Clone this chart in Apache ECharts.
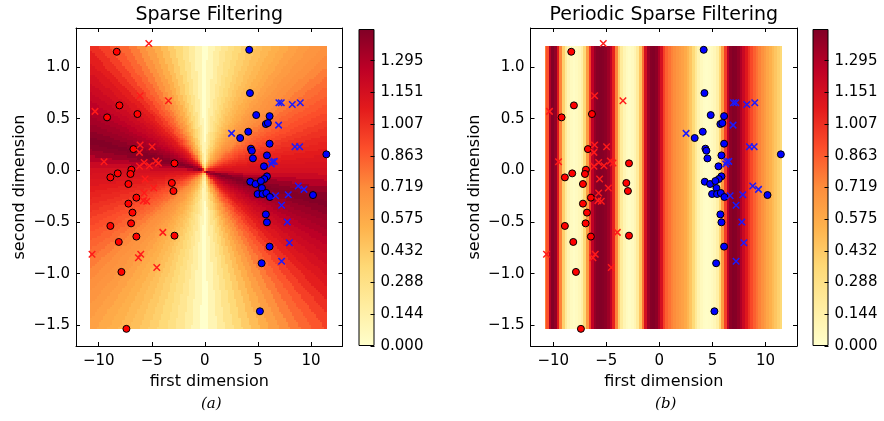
<!DOCTYPE html>
<html><head><meta charset="utf-8">
<script src="https://cdn.jsdelivr.net/npm/echarts@6/dist/echarts.min.js"></script>
<style>html,body{margin:0;padding:0;background:#fff}#c{width:884px;height:421px}</style>
</head><body><div id="c"></div>
<script>
// ---------------- data ----------------
const xTicks = [-10, -5, 0, 5, 10];
const yTicks = [-1.5, -1.0, -0.5, 0.0, 0.5, 1.0];
const cbarLabels = ['0.000','0.144','0.288','0.432','0.575','0.719','0.863','1.007','1.151','1.295'];
const cbarMax = 1.4387;
const xRange = [-12.14, 12.97];
const yRange = [-1.70, 1.378];
const fieldX = [-10.75, 11.5];
const fieldY = [-1.53, 1.20];

const redDots = [[-8.30,1.148],[-8.05,0.629],[-9.21,0.513],[-6.35,0.545],[-6.73,0.206],[-2.86,0.068],
  [-6.92,0.006],[-7.01,-0.035],[-8.21,-0.029],[-8.90,-0.068],[-7.20,-0.132],[-3.11,-0.122],[-2.96,-0.200],
  [-6.45,-0.264],[-7.20,-0.322],[-6.82,-0.409],[-6.95,-0.513],[-8.90,-0.538],[-6.45,-0.641],[-2.86,-0.632],
  [-8.11,-0.693],[-7.86,-0.983],[-7.39,-1.534]];
const redCrosses = [[-5.28,1.228],[-6.10,0.722],[-3.43,0.674],[-10.35,0.571],[-6.10,0.245],[-4.97,0.229],
  [-6.16,0.174],[-9.50,0.084],[-5.72,0.077],[-6.16,0.039],[-5.22,0.045],[-4.62,0.090],[-4.37,0.071],
  [-5.63,-0.084],[-4.81,-0.171],[-5.72,-0.219],[-5.79,-0.293],[-5.47,-0.299],[-3.96,-0.600],[-10.63,-0.812],
  [-6.04,-0.812],[-6.26,-0.845],[-4.53,-0.941]];
const blueDots = [[4.18,1.167],[4.25,0.748],[4.84,0.535],[6.10,0.525],[5.75,0.448],[5.94,0.458],[4.09,0.374],
  [3.33,0.313],[6.10,0.258],[4.34,0.210],[4.43,0.190],[4.53,0.116],[5.85,0.145],[5.57,0.039],[11.45,0.155],
  [5.85,-0.058],[5.60,-0.084],[4.28,-0.110],[4.78,-0.132],[5.28,-0.103],[5.38,-0.171],[4.97,-0.229],
  [5.44,-0.229],[5.79,-0.219],[6.13,-0.258],[10.19,-0.239],[5.75,-0.426],[5.85,-0.503],[6.10,-0.738],
  [5.35,-0.899],[5.19,-1.364]];
const blueCrosses = [[6.98,0.654],[7.20,0.654],[8.24,0.638],[8.99,0.654],[6.95,0.438],[2.52,0.358],[8.49,0.229],
  [8.93,0.229],[6.35,0.084],[6.54,0.087],[6.26,0.061],[8.80,-0.152],[9.34,-0.184],[6.67,-0.245],[7.86,-0.236],
  [7.23,-0.338],[7.77,-0.500],[7.96,-0.700],[7.23,-0.880]];

// panel (a): value read along rays from the origin, every 3 degrees of screen angle (0..177)
const angleStep = 3;
const sparseByAngle = [
  1.15,1.13,1.11,1.08,1.05,1.03,1.00,0.97,0.93,0.90,
  0.87,0.84,0.81,0.77,0.73,0.70,0.68,0.65,0.62,0.58,
  0.55,0.51,0.48,0.44,0.40,0.35,0.30,0.24,0.17,0.09,
  0.00,0.10,0.19,0.27,0.35,0.42,0.49,0.56,0.63,0.70,
  0.77,0.83,0.88,0.95,1.01,1.07,1.11,1.15,1.19,1.22,
  1.26,1.30,1.33,1.36,1.40,1.43,1.41,1.36,1.28,1.20];
// panel (b): value read along the first dimension, every 0.25 from -10.75 to 11.5
const periodicStep = 0.25;
const periodicByX = [
  0.75,0.9,1.3,1.43,1.38,1.1,0.75,0.4,0.2,0.1,
  0.05,0.03,0.05,0.08,0.15,0.35,0.65,0.95,1.25,1.38,
  1.42,1.43,1.42,1.40,1.35,1.25,1.05,0.75,0.4,0.2,
  0.1,0.05,0.03,0.05,0.1,0.2,0.45,0.8,1.15,1.35,
  1.42,1.43,1.4,1.3,1.15,0.95,0.85,0.8,0.75,0.72,
  0.68,0.65,0.62,0.58,0.52,0.45,0.35,0.22,0.12,0.06,
  0.03,0.02,0.03,0.05,0.08,0.15,0.35,0.65,0.95,1.25,
  1.4,1.43,1.42,1.38,1.3,1.2,1.1,1.0,0.92,0.85,
  0.8,0.75,0.7,0.65,0.6,0.55,0.5,0.45,0.4,0.35];

// ---------------- layout / style ----------------
const FONT = 'DejaVu Sans';
const YlOrRd = ['#ffffcc','#ffeda0','#fed976','#feb24c','#fd8d3c','#fc4e2a','#e31a1c','#bd0026','#800026'];
const plotTop = 28, plotW = 266.5, plotH = 318;
const cbTop = 29, cbW = 16, cbH = 317;
const panels = [
  {title:'Sparse Filtering', tag:'(a)', left:76, cbLeft:358.5},
  {title:'Periodic Sparse Filtering', tag:'(b)', left:530.5, cbLeft:812.5}
];

function minus(s){ return String(s).replace('-', '\u2212'); }

function angleCells(){
  const nx = 110, ny = 130;
  const dx = (fieldX[1]-fieldX[0])/nx, dy = (fieldY[1]-fieldY[0])/ny;
  const ratio = (plotH/(yRange[1]-yRange[0]))/(plotW/(xRange[1]-xRange[0]));
  const cells = [];
  for (let i=0;i<nx;i++) for (let j=0;j<ny;j++){
    const x0 = fieldX[0]+i*dx, y0 = fieldY[0]+j*dy;
    const xc = x0+dx/2, yc = y0+dy/2;
    let deg = Math.atan2(yc*ratio, xc)*180/Math.PI;
    deg = ((deg%180)+180)%180;
    const k = Math.round(deg/angleStep) % sparseByAngle.length;
    cells.push([x0, y0, x0+dx, y0+dy, sparseByAngle[k]]);
  }
  return cells;
}
function periodicCells(){
  const cells = [];
  periodicByX.forEach((v,i)=>{
    const xc = fieldX[0]+i*periodicStep;
    const x0 = Math.max(fieldX[0], xc-periodicStep/2), x1 = Math.min(fieldX[1], xc+periodicStep/2);
    cells.push([x0, fieldY[0], x1, fieldY[1], v]);
  });
  return cells;
}

function renderCell(params, api){
  const p0 = api.coord([api.value(0), api.value(3)]);
  const p1 = api.coord([api.value(2), api.value(1)]);
  const x = Math.floor(p0[0]), y = Math.floor(p0[1]);
  return {type:'rect', shape:{x:x, y:y, width:Math.ceil(p1[0])-x, height:Math.ceil(p1[1])-y},
    style:{fill: api.visual('color'), stroke:null}};
}

const grid = [], xAxis = [], yAxis = [], series = [], graphic = [];
const tickLab = {fontFamily:FONT, fontSize:15, color:'#000'};
const cellSeriesIdx = [];
panels.forEach((p, pi)=>{
  const g = grid.length;
  grid.push({left:p.left, top:plotTop, width:plotW, height:plotH, show:false});
  grid.push({left:p.cbLeft, top:cbTop, width:cbW, height:cbH, show:false});
  const xb = xAxis.length;
  const baseX = {type:'value', gridIndex:g, min:xRange[0], max:xRange[1], splitLine:{show:false}, z:5,
    axisLine:{show:true, onZero:false, lineStyle:{color:'#000', width:1}},
    axisTick:{show:true, inside:true, length:4, customValues:xTicks, lineStyle:{color:'#000'}}};
  xAxis.push(Object.assign({}, baseX, {position:'bottom',
    axisLabel:{show:true, customValues:xTicks, margin:8, formatter:v=>minus(v), ...tickLab},
    name:'first dimension', nameLocation:'middle', nameGap:27,
    nameTextStyle:{fontFamily:FONT, fontSize:16, color:'#000'}}));
  xAxis.push(Object.assign({}, baseX, {position:'top', axisLabel:{show:false}}));
  xAxis.push({type:'category', gridIndex:g+1, data:['c'], show:false});
  const yb = yAxis.length;
  const baseY = {type:'value', gridIndex:g, min:yRange[0], max:yRange[1], splitLine:{show:false}, z:5,
    axisLine:{show:true, onZero:false, lineStyle:{color:'#000', width:1}},
    axisTick:{show:true, inside:true, length:4, customValues:yTicks, lineStyle:{color:'#000'}}};
  yAxis.push(Object.assign({}, baseY, {position:'left',
    axisLabel:{show:true, customValues:yTicks, margin:6, formatter:v=>minus(v.toFixed(1)), ...tickLab},
    name:'second dimension', nameLocation:'middle', nameGap:48, nameRotate:90,
    nameTextStyle:{fontFamily:FONT, fontSize:16, color:'#000'}}));
  yAxis.push(Object.assign({}, baseY, {position:'right', axisLabel:{show:false}}));
  const cbVals = cbarLabels.map((s,i)=>i*cbarMax/10);
  yAxis.push({type:'value', gridIndex:g+1, position:'right', min:0, max:cbarMax, z:5,
    splitLine:{show:false}, axisLine:{show:false},
    axisTick:{show:true, inside:true, length:4, customValues:cbVals, lineStyle:{color:'#000'}},
    axisLabel:{show:true, customValues:cbVals, margin:6,
      formatter:v=>cbarLabels[Math.round(v/cbarMax*10)] || '', ...tickLab}});

  cellSeriesIdx.push(series.length);
  series.push({type:'custom', xAxisIndex:xb, yAxisIndex:yb, renderItem:renderCell, silent:true, z:1,
    encode:{x:[0,2], y:[1,3]}, data: pi===0 ? angleCells() : periodicCells()});
  const sc = (data, sym, size, style)=>({type:'scatter', xAxisIndex:xb, yAxisIndex:yb, data, symbol:sym,
    symbolSize:size, itemStyle:style, silent:true, z:3});
  const cross = 'path://M0,0L10,10M10,0L0,10';
  series.push(sc(redDots, 'circle', 7, {color:'#ff0000', borderColor:'#000', borderWidth:1, opacity:1}));
  series.push(sc(redCrosses, cross, 6.5, {color:'rgba(0,0,0,0)', borderColor:'#ff1a1a', borderWidth:1.5, opacity:1}));
  series.push(sc(blueDots, 'circle', 7, {color:'#0000ff', borderColor:'#000', borderWidth:1, opacity:1}));
  series.push(sc(blueCrosses, cross, 6.5, {color:'rgba(0,0,0,0)', borderColor:'#1a1aff', borderWidth:1.5, opacity:1}));
  series.push({type:'bar', xAxisIndex:xb+2, yAxisIndex:yb+2, data:[cbarMax], barWidth:'100%', silent:true,
    itemStyle:{borderColor:'#000', borderWidth:1, color:{type:'linear', x:0, y:1, x2:0, y2:0,
      colorStops: YlOrRd.map((c,i)=>({offset:i/(YlOrRd.length-1), color:c}))}}});

  const cx = p.left + plotW/2;
  graphic.push({type:'text', x:cx, y:15, style:{text:p.title, fontFamily:FONT, fontSize:19, fill:'#000',
    align:'center', verticalAlign:'middle'}});
  graphic.push({type:'text', x:cx+2, y:404, style:{text:p.tag, fontFamily:'DejaVu Serif', fontStyle:'italic',
    fontSize:15, fill:'#000', align:'center', verticalAlign:'middle'}});
});

const chart = echarts.init(document.getElementById('c'), null, {renderer:'canvas'});
chart.setOption({
  animation:false,
  backgroundColor:'#fff',
  grid, xAxis, yAxis, series, graphic,
  visualMap:{type:'continuous', show:false, min:0, max:cbarMax, dimension:4, seriesIndex:cellSeriesIdx,
    inRange:{color:YlOrRd}}
});
</script></body></html>
